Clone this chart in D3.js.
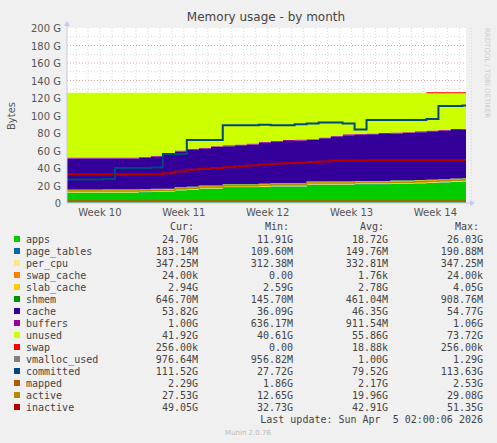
<!DOCTYPE html>
<html><head><meta charset="utf-8">
<script src="https://cdn.jsdelivr.net/npm/d3@7"></script>
<style>body{margin:0;background:#f0f0f0}svg{display:block}</style>
</head><body>
<svg id="c" width="497" height="443"></svg>
<script>
// days since start of the month view, values in GB
var days = d3.range(34);
var weekLabels = ["Week 10", "Week 11", "Week 12", "Week 13", "Week 14"];
var weekDays = [2.75, 9.75, 16.75, 23.75, 30.75];

var apps = [11.9,11.9,11.9,11.9,11.9,11.9,12.3,12.5,12.6,14.5,15,16.5,16.5,18,18,18,18.5,19,19,19,21,21,21,21,21.5,21.5,21.5,22,22,22.5,23,23.5,24.2,24.7];
var pageTables = days.map(function(){return 0.15;});
var perCpu = days.map(function(){return 0.33;});
var swapCache = days.map(function(){return 0;});
var slabCache = [2.6,2.6,2.6,2.7,2.7,2.7,2.7,2.8,2.8,2.8,2.8,2.8,2.8,2.8,2.8,2.8,2.8,2.8,2.8,2.8,2.8,2.8,2.8,2.8,2.8,2.8,2.8,2.9,2.9,2.9,2.9,2.9,2.9,2.94];
var shmem = days.map(function(){return 0.5;});
var cacheTop = [51,51,51,51,51,51,52,53,56,59,61,62,64,65,66,67,69,70,71,71.5,72,74,76,77.5,78,78.5,79,79.5,80,81,82,82.5,83.5,83.8];
var buffers = days.map(function(){return 1;});
var total = 126;
var swap = [0,0,0,0,0,0,0,0,0,0,0,0,0,0,0,0,0,0,0,0,0,0,0,0,0,0,0,0,0,0,0.3,0.3,0.3,0.3];
var vmalloc = days.map(function(){return 1;});
var committed = [27,27,27,27.5,40,40,40,40.5,56,56,72,72,72,89,89,89,89.5,89,89,90,91,92,92,91,84,95,95,95,95,95,96,111,111,111.5];
var mapped = days.map(function(){return 2.2;});
var active = apps.map(function(v){return v + 1.8;});
var inactive = [33,33,33,33,33,33,33,33,34,36,38,39,40,41,42,43,44,45,45.5,46,47,47.5,48.5,48.5,48.5,48.8,48.8,48.8,49,49,49,49,49,49.05];

var legendNames = ["apps","page_tables","per_cpu","swap_cache","slab_cache","shmem","cache","buffers","unused","swap","vmalloc_used","committed","mapped","active","inactive"];
var legendColors = ["#00cc00","#0066b3","#ffe680","#ff8000","#ffcc00","#008f00","#330099","#990099","#ccff00","#ff0000","#808080","#00487d","#b35a00","#b38f00","#b30000"];
var curVals = ["24.70G","183.14M","347.25M","24.00k","2.94G","646.70M","53.82G","1.00G","41.92G","256.00k","976.64M","111.52G","2.29G","27.53G","49.05G"];
var minVals = ["11.91G","109.60M","312.38M","0.00","2.59G","145.70M","36.09G","636.17M","40.61G","0.00","956.82M","27.72G","1.86G","12.65G","32.73G"];
var avgVals = ["18.72G","149.76M","332.81M","1.76k","2.78G","461.04M","46.35G","911.54M","55.86G","18.88k","1.00G","79.52G","2.17G","19.96G","42.91G"];
var maxVals = ["26.03G","190.88M","347.25M","24.00k","4.05G","908.76M","54.77G","1.06G","73.72G","256.00k","1.29G","113.63G","2.53G","29.08G","51.35G"];
var yTicks = [0,20,40,60,80,100,120,140,160,180,200];

var svg = d3.select("#c");
var x = d3.scaleLinear().domain([0, 33.3]).range([67, 466]);
var y = d3.scaleLinear().domain([0, 200]).range([203, 28]);

svg.append("rect").attr("x",67).attr("y",28).attr("width",399).attr("height",175).attr("fill","#fff");

// grid
d3.range(10, 200, 10).forEach(function(v){
  svg.append("line").attr("x1",67).attr("x2",466).attr("y1",y(v)).attr("y2",y(v))
    .attr("stroke", v % 20 == 0 ? "#e0a0a0" : "#d8d8d8").attr("stroke-dasharray","1,2");
});
d3.range(0, 34).forEach(function(d){
  var isWeek = (d - 2.75) % 7 == 0;
  svg.append("line").attr("x1",x(d+0.75)).attr("x2",x(d+0.75)).attr("y1",28).attr("y2",203)
    .attr("stroke","#d8d8d8").attr("stroke-dasharray","1,2");
});

// stacked areas
var layers = [apps, pageTables, perCpu, swapCache, slabCache, shmem];
var base = days.map(function(){return 0;});
var stacks = [];
layers.forEach(function(arr){
  var lo = base.slice();
  base = base.map(function(b,i){return b + arr[i];});
  stacks.push([lo, base.slice()]);
});
stacks.push([base.slice(), cacheTop.slice()]);
var bufTop = cacheTop.map(function(v,i){return v + buffers[i];});
stacks.push([cacheTop.slice(), bufTop]);
var unusedTop = days.map(function(){return total;});
stacks.push([bufTop, unusedTop]);
var area = d3.area().curve(d3.curveStepAfter)
  .x(function(d){return x(d[0]);}).y0(function(d){return y(d[1]);}).y1(function(d){return y(d[2]);});
stacks.forEach(function(s, k){
  var pts = days.map(function(d,i){return [d, s[0][i], s[1][i]];});
  pts.push([33.3, s[0][33], s[1][33]]);
  svg.append("path").datum(pts).attr("d", area).attr("fill", legendColors[k]);
});

var line = d3.line().curve(d3.curveStepAfter).x(function(d){return x(d[0]);}).y(function(d){return y(d[1]);});
function drawLine(arr, color, w){
  var pts = days.map(function(d,i){return [d, arr[i]];});
  pts.push([33.3, arr[33]]);
  svg.append("path").datum(pts).attr("d", line).attr("fill","none").attr("stroke",color).attr("stroke-width",w);
}
// swap stacked on top of unused
var swapPts = days.filter(function(d){return swap[d] > 0;});
svg.append("line").attr("x1",x(swapPts[0])).attr("x2",x(33.3)).attr("y1",y(total)).attr("y2",y(total)).attr("stroke","#ff0000").attr("stroke-width",1);
drawLine(vmalloc, "#808080", 1);
drawLine(mapped, "#b35a00", 1.5);
drawLine(active, "#b38f00", 1.5);
drawLine(inactive, "#b30000", 2);
drawLine(committed, "#00487d", 2);

// axes
svg.append("line").attr("x1",67).attr("x2",470).attr("y1",203).attr("y2",203).attr("stroke","#c8c8e8");
svg.append("line").attr("x1",67).attr("x2",67).attr("y1",24).attr("y2",203).attr("stroke","#c8c8e8");
svg.append("path").attr("d","M470,200 L475,203 L470,206Z").attr("fill","#c8c8f0");
svg.append("path").attr("d","M64,26 L67,21 L70,26Z").attr("fill","#c8c8f0");
svg.selectAll(".yt").data(yTicks).enter().append("text")
  .attr("x",61).attr("y",function(d){return y(d)+4;}).attr("text-anchor","end")
  .attr("font-family","DejaVu Sans").attr("font-size",10).attr("fill","#555")
  .text(function(d){return d == 0 ? "0" : d + " G";});
svg.selectAll(".xt").data(weekDays).enter().append("text")
  .attr("x",function(d){return x(d);}).attr("y",216).attr("text-anchor","middle")
  .attr("font-family","DejaVu Sans").attr("font-size",10).attr("fill","#555")
  .text(function(d,i){return weekLabels[i];});

svg.append("text").attr("x",266).attr("y",21).attr("text-anchor","middle")
  .attr("font-family","DejaVu Sans").attr("font-size",12).attr("fill","#444").text("Memory usage - by month");
svg.append("text").attr("transform","translate(15,116) rotate(-90)").attr("text-anchor","middle")
  .attr("font-family","DejaVu Sans").attr("font-size",10).attr("fill","#555").text("Bytes");
svg.append("text").attr("transform","translate(485,28) rotate(90)")
  .attr("font-family","DejaVu Sans").attr("font-size",7).attr("fill","#ccc").text("RRDTOOL / TOBI OETIKER");

// legend
var mono = "DejaVu Sans Mono";
var cols = [198, 293, 388, 483];
["Cur:","Min:","Avg:","Max:"].forEach(function(h,i){
  svg.append("text").attr("x",cols[i]-4).attr("y",230).attr("text-anchor","end")
    .attr("font-family",mono).attr("font-size",10).attr("fill","#444").text(h);
});
legendNames.forEach(function(n,i){
  var yy = 243 + i*12;
  svg.append("rect").attr("x",14).attr("y",yy-7).attr("width",6).attr("height",6).attr("fill",legendColors[i]);
  svg.append("text").attr("x",26).attr("y",yy).attr("font-family",mono).attr("font-size",10).attr("fill","#444").text(n);
  [curVals, minVals, avgVals, maxVals].forEach(function(arr,j){
    svg.append("text").attr("x",cols[j]).attr("y",yy).attr("text-anchor","end")
      .attr("font-family",mono).attr("font-size",10).attr("fill","#444").text(arr[i]);
  });
});
svg.append("text").attr("x",483).attr("y",423).attr("text-anchor","end").attr("xml:space","preserve")
  .attr("font-family",mono).attr("font-size",10).attr("fill","#444").text("Last update: Sun Apr  5 02:00:06 2026");
svg.append("text").attr("x",248).attr("y",435).attr("text-anchor","middle")
  .attr("font-family","DejaVu Sans").attr("font-size",7).attr("fill","#bbb").text("Munin 2.0.76");
</script>
</body></html>
